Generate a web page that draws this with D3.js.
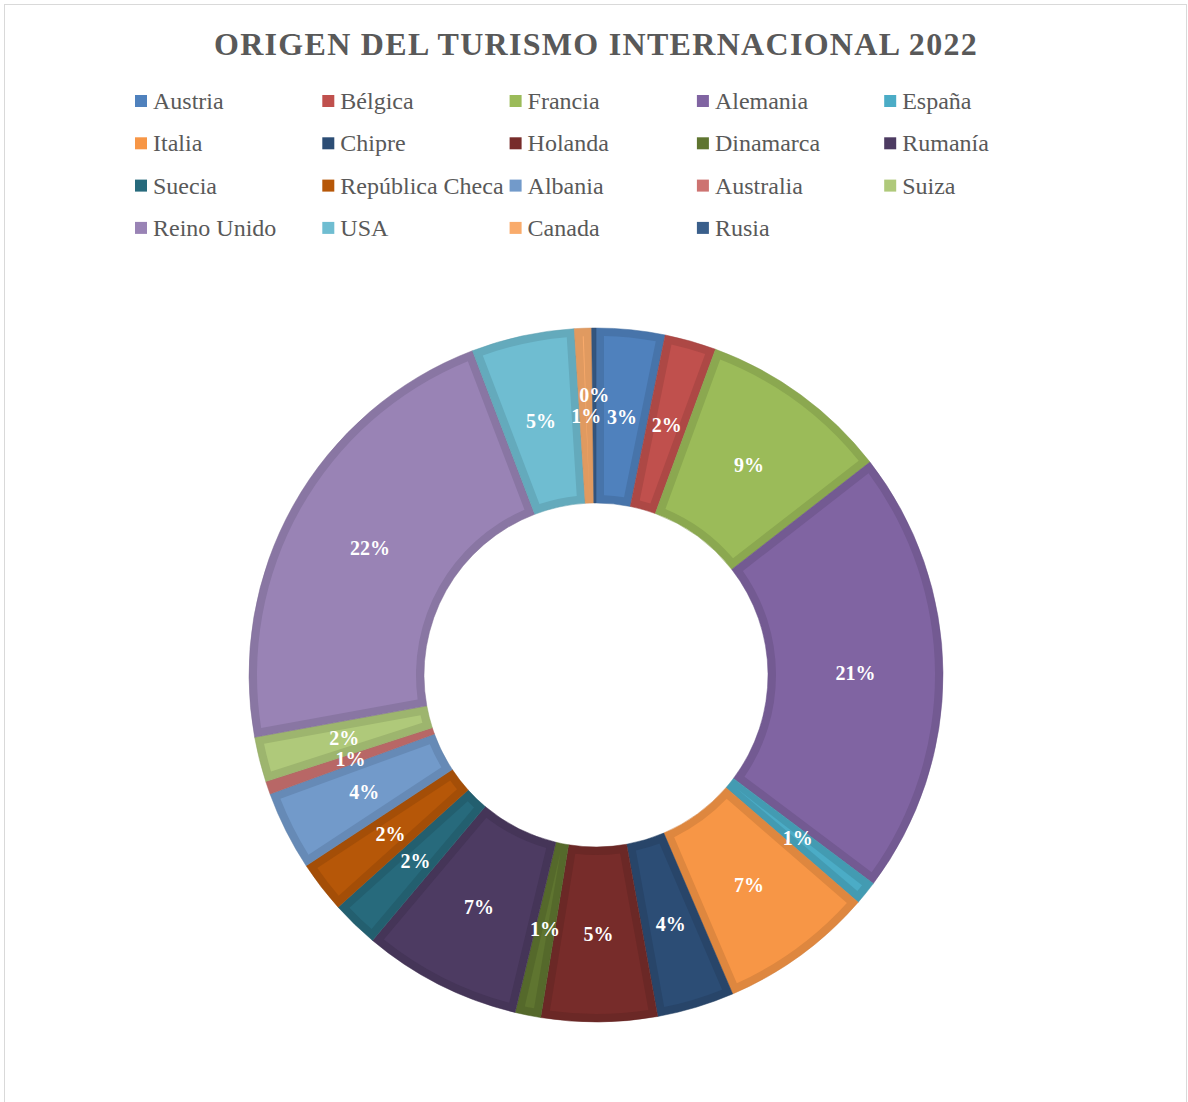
<!DOCTYPE html>
<meta charset="utf-8">
<style>

body { margin: 0; background: #fff; }

text {
  font-family: "Liberation Serif", "Times New Roman", serif;
}

.title {
  font-size: 32px;
  font-weight: bold;
  fill: #595959;
  letter-spacing: 1.3px;
  text-anchor: middle;
}

.legend text {
  font-size: 24px;
  fill: #595959;
}

.pct {
  font-size: 20px;
  font-weight: bold;
  fill: #fff;
  text-anchor: middle;
}

</style>
<svg width="1188" height="1102"></svg>
<script src="https://d3js.org/d3.v7.min.js"></script>
<script>

// share of international tourists by origin, 2022 (%)
var paises = ["Austria", "Bélgica", "Francia", "Alemania", "España",
              "Italia", "Chipre", "Holanda", "Dinamarca", "Rumanía",
              "Suecia", "República Checa", "Albania", "Australia", "Suiza",
              "Reino Unido", "USA", "Canada", "Rusia"];
var valores = [3.2, 2.4, 8.9, 20.8, 1.1,
               7.2, 3.6, 5.4, 1.2, 7.4,
               2.2, 2.4, 3.7, 0.6, 2.1,
               22.1, 4.8, 0.8, 0.2];
var colores = ["#4F81BD", "#C0504D", "#9BBB59", "#8064A2", "#4BACC6",
               "#F79646", "#2C4D75", "#772C2A", "#5F7530", "#4D3B62",
               "#276A7C", "#B65708", "#729ACA", "#CD7371", "#AFC97A",
               "#9983B5", "#6FBDD1", "#F9AB6B", "#3A5F8B"];

var svg = d3.select("svg"),
    width = +svg.attr("width"),
    height = +svg.attr("height");

var datos = paises.map(function(p, i) { return {pais: p, valor: valores[i], color: colores[i]}; });
var total = d3.sum(valores);

// frame
svg.append("rect")
    .attr("x", 4.5).attr("y", 4.5)
    .attr("width", width - 6).attr("height", height + 10)
    .attr("fill", "none")
    .attr("stroke", "#D9D9D9");

svg.append("text")
    .attr("class", "title")
    .attr("x", 596)
    .attr("y", 55)
    .text("ORIGEN DEL TURISMO INTERNACIONAL 2022");

// legend, 5 columns
var legend = svg.append("g").attr("class", "legend");
var item = legend.selectAll("g")
    .data(datos)
  .enter().append("g")
    .attr("transform", function(d, i) {
      return "translate(" + (135 + (i % 5) * 187.3) + "," + (101 + Math.floor(i / 5) * 42.3) + ")";
    });
item.append("rect")
    .attr("x", 0).attr("y", -6)
    .attr("width", 12).attr("height", 12)
    .attr("fill", function(d) { return d.color; });
item.append("text")
    .attr("x", 18)
    .attr("y", 0)
    .attr("dy", "0.33em")
    .text(function(d) { return d.pais; });

// donut
var cx = 596, cy = 675,
    rOut = 347, rIn = 172, borde = 8;

var pie = d3.pie()
    .sort(null)
    .value(function(d) { return d.valor; });

var arcs = pie(datos);

var arc = d3.arc().innerRadius(rIn).outerRadius(rOut);
var arcInner = d3.arc()
    .innerRadius(rIn + borde)
    .outerRadius(rOut - borde)
    .padRadius(rOut)
    .padAngle(2 * borde / rOut);

var g = svg.append("g").attr("transform", "translate(" + cx + "," + cy + ")");

var slice = g.selectAll("g.slice")
    .data(arcs)
  .enter().append("g")
    .attr("class", "slice");

slice.append("path")
    .attr("d", arc)
    .attr("fill", function(d) { return d3.color(d.data.color).darker(0.3); })
    .attr("stroke", function(d) { return d3.color(d.data.color).darker(0.5); })
    .attr("stroke-width", 0.5);

slice.append("path")
    .attr("d", function(d) { return arcInner(d); })
    .attr("fill", function(d) { return d.data.color; });

// labels at mid ring, pushed outwards if they collide with one already placed
var rMid = (rIn + rOut) / 2;
var placed = [];
var labels = g.selectAll("text.pct")
    .data(arcs)
  .enter().append("text")
    .attr("class", "pct")
    .attr("dy", "0.35em")
    .text(function(d) { return Math.round(d.data.valor / total * 100) + "%"; });

labels.each(function(d) {
  var node = this,
      a = (d.startAngle + d.endAngle) / 2,
      r = rMid;
  var w = node.getComputedTextLength() + 4, h = 21;
  function box(r) {
    var x = Math.sin(a) * r, y = -Math.cos(a) * r;
    return {x0: x - w / 2, x1: x + w / 2, y0: y - h / 2, y1: y + h / 2, x: x, y: y};
  }
  var b = box(r);
  function hits(b) {
    return placed.some(function(p) {
      return b.x0 < p.x1 && b.x1 > p.x0 && b.y0 < p.y1 && b.y1 > p.y0;
    });
  }
  while (hits(b) && r < rOut + 40) { r += 3; b = box(r); }
  placed.push(b);
  d3.select(node).attr("x", b.x).attr("y", b.y);
});

</script>
